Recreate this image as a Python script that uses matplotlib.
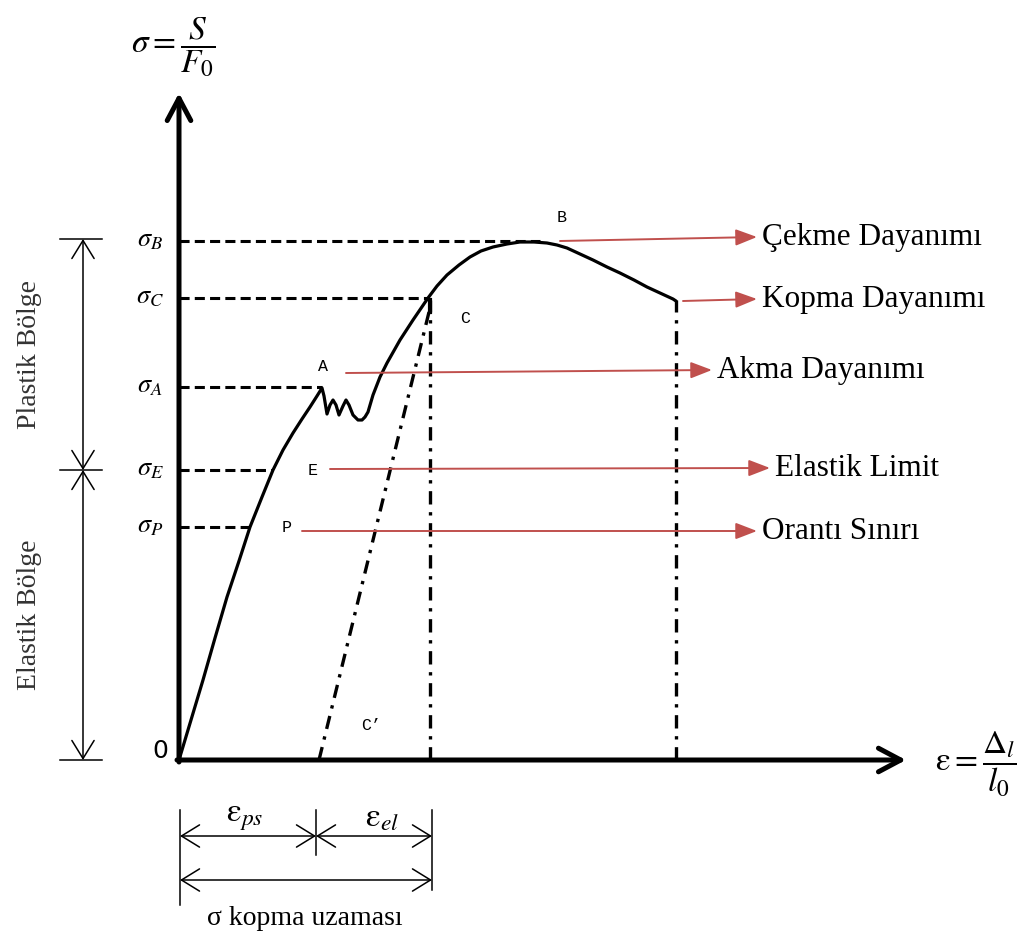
import matplotlib
matplotlib.use("Agg")
import matplotlib.pyplot as plt

plt.rcParams['font.family'] = ['Liberation Serif', 'DejaVu Serif']
plt.rcParams['mathtext.fontset'] = 'stix'

# ---------------------------------------------------------------
# Data (strain / stress in drawing units, origin = 0)
# ---------------------------------------------------------------
curve_eps = [0, 12, 24, 36, 48, 60, 71, 83, 94, 104, 114, 123, 131, 138, 143,
             145, 148, 151, 154, 157, 160, 164, 167, 170, 174, 179, 183,
             186, 189, 194, 201, 208, 221, 234, 249,
             258, 268, 280, 291, 302, 314, 328, 341, 355, 368, 378, 388, 401,
             414, 428, 441, 455, 468, 481, 494, 497]
curve_sig = [0, 40, 80, 122, 163, 199, 233, 263, 290, 310, 327, 341, 353, 364, 372,
             364, 346, 355, 360, 355, 345, 354, 360, 355, 345, 340, 340,
             343, 348, 365, 383, 397, 420, 440, 462,
             474, 485, 495, 503, 509, 513, 516, 518, 518, 517, 515, 512, 506,
             500, 493, 487, 480, 473, 467, 461, 459]

# characteristic stress levels and where their dashed lines end
levels = ['B', 'C', 'A', 'E', 'P']
level_sig = [519, 462, 373, 290, 233]
level_eps = [361, 249, 143, 94, 71]

eps_C = 251        # strain at C
eps_Cp = 140       # permanent strain C'
eps_break = 497    # fracture strain
sig_break = 460

# point letters
point_names = ['B', 'C', 'A', 'E', 'P', "C’"]
point_eps = [383, 286, 144, 134, 108, 192]
point_sig = [543, 442, 394, 290, 233, 35]

# red callouts
call_labels = ['Çekme Dayanımı', 'Kopma Dayanımı', 'Akma Dayanımı',
               'Elastik Limit', 'Orantı Sınırı']
call_x0 = [381, 504, 167, 151, 123]
call_y0 = [519, 459, 387, 291, 229]
call_x1 = [578, 578, 533, 591, 578]
call_y1 = [523, 461, 390, 292, 229]

red = '#C0504D'

fig = plt.figure(figsize=(10.28, 9.38), dpi=100)
ax = fig.add_axes([0, 0, 1, 1])
ax.set_xlim(-179, 849)
ax.set_ylim(-178, 760)
ax.axis('off')

# axes arrows
ax.annotate('', xy=(0, 667), xytext=(0, -2),
            arrowprops=dict(arrowstyle='->,head_length=1.6,head_width=0.85',
                            lw=3.6, color='black', mutation_scale=10,
                            shrinkA=0, shrinkB=0))
ax.annotate('', xy=(727, 0), xytext=(-2, 0),
            arrowprops=dict(arrowstyle='->,head_length=1.6,head_width=0.85',
                            lw=3.6, color='black', mutation_scale=10,
                            shrinkA=0, shrinkB=0))
ax.text(-6, 713, r'$\sigma = \dfrac{S}{F_0}$', fontsize=24, ha='center', va='center')
ax.text(797, -4, r'$\mathrm{ε} = \dfrac{\mathit{\Delta}_l}{l_0}$', fontsize=24,
        ha='center', va='center')
ax.text(-19, 9, '0', fontsize=18, ha='center', va='center', family='DejaVu Sans')

# dashed level lines + labels
for name, s, e in zip(levels, level_sig, level_eps):
    ax.plot([0, e], [s, s], color='black', lw=2.2, ls=(0, (3.3, 1.7)))
    ax.text(-29, s, r'$\sigma_{%s}$' % name, fontsize=19, ha='center', va='center')

# dash-dot verticals and unloading line
dashdot = (0, (4, 2.3, 1, 2.3))
ax.plot([eps_C, eps_C], [0, sig_break], color='black', lw=2.4, ls=dashdot)
ax.plot([eps_C, eps_C], [sig_break - 12, sig_break], color='black', lw=3)
ax.plot([eps_break, eps_break], [0, sig_break], color='black', lw=2.4, ls=dashdot)
ax.plot([eps_Cp, eps_C], [0, sig_break - 8], color='black', lw=2.4, ls=dashdot)

# stress-strain curve
ax.plot(curve_eps, curve_sig, color='black', lw=2.3, solid_joinstyle='round',
        solid_capstyle='round')

# point letters
for n, x, y in zip(point_names, point_eps, point_sig):
    ax.text(x, y, n, fontsize=12, ha='center', va='center', family='Liberation Mono')

# red callouts
for lab, x0, y0, x1, y1 in zip(call_labels, call_x0, call_y0, call_x1, call_y1):
    ax.annotate('', xy=(x1, y1), xytext=(x0, y0),
                arrowprops=dict(arrowstyle='-|>,head_length=1.3,head_width=0.5',
                                lw=1.4, color=red, mutation_scale=10,
                                shrinkA=0, shrinkB=0))
    ax.text(x1 + 5, y1, lab, fontsize=22.5, ha='left', va='center')

# left dimension arrows (plastic / elastic regions)
dim_x = -96
reg_top = [521, 290]
reg_bot = [290, 0]
reg_labels = ['Plastik Bölge', 'Elastik Bölge']
for t, b, lab in zip(reg_top, reg_bot, reg_labels):
    ax.annotate('', xy=(dim_x, t), xytext=(dim_x, b),
                arrowprops=dict(arrowstyle='<->,head_length=1.3,head_width=0.8',
                                lw=1.1, color='black', mutation_scale=10,
                                shrinkA=0, shrinkB=0))
    ax.text(-149, (t + b) / 2, lab, fontsize=20, rotation=90, ha='center',
            va='center', color='#333333')
for s in [521, 290, 0]:
    ax.plot([-119, -77], [s, s], color='black', lw=1.1)

# bottom dimension arrows
row1, row2 = -76, -120
ax.plot([1, 1], [-50, -145], color='black', lw=1.1)
ax.plot([eps_Cp - 3, eps_Cp - 3], [-50, -95], color='black', lw=1.1)
ax.plot([eps_C + 2, eps_C + 2], [-50, -130], color='black', lw=1.1)
for a, b, y in [(1, eps_Cp - 3, row1), (eps_Cp - 3, eps_C + 2, row1), (1, eps_C + 2, row2)]:
    ax.annotate('', xy=(b, y), xytext=(a, y),
                arrowprops=dict(arrowstyle='<->,head_length=1.3,head_width=0.8',
                                lw=1.1, color='black', mutation_scale=10,
                                shrinkA=0, shrinkB=0))
ax.text(66, -58, r'$\mathrm{ε}_{ps}$', fontsize=24, ha='center', va='center')
ax.text(203, -58, r'$\mathrm{ε}_{el}$', fontsize=24, ha='center', va='center')
ax.text(126, -158, 'σ kopma uzaması', fontsize=20, ha='center', va='center')

fig.savefig('out.png', dpi=100)
